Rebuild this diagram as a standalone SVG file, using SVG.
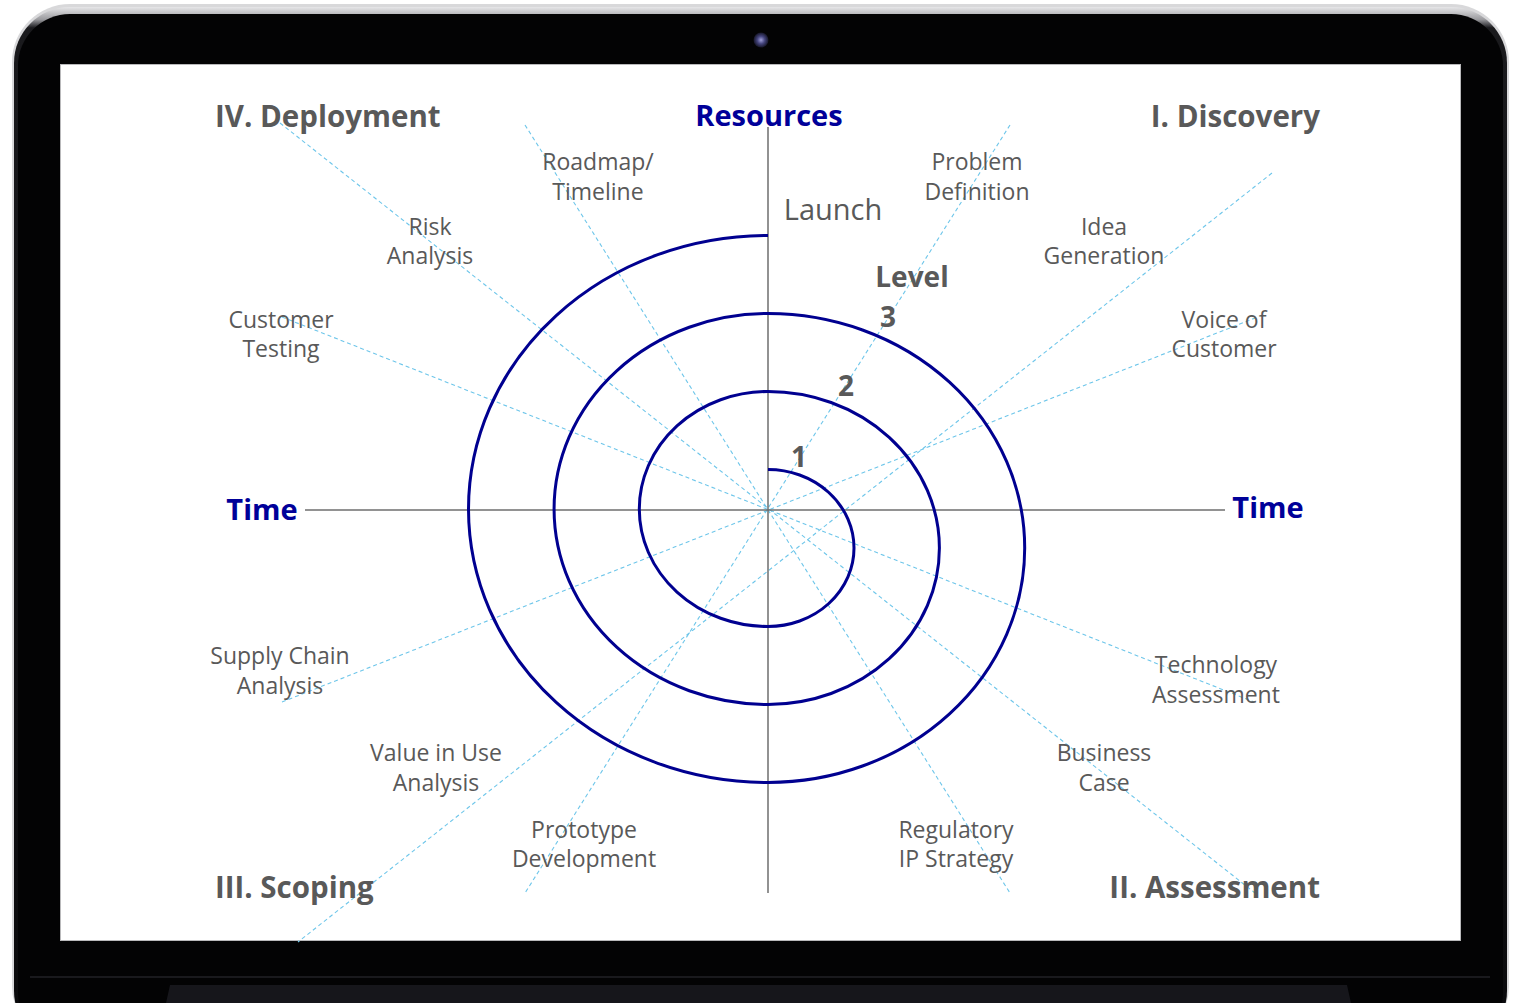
<svg xmlns="http://www.w3.org/2000/svg" width="1521" height="1003" viewBox="0 0 1521 1003">
  <defs>
    <radialGradient id="lens" cx="0.5" cy="0.5" r="0.5">
      <stop offset="0" stop-color="#a0a0d8"/>
      <stop offset="0.5" stop-color="#45457f"/>
      <stop offset="1" stop-color="#151526"/>
    </radialGradient>
    <linearGradient id="rim" x1="0" y1="0" x2="0" y2="1">
      <stop offset="0" stop-color="#e6e6e8"/>
      <stop offset="0.012" stop-color="#9a9a9e"/>
      <stop offset="0.02" stop-color="#1a1a1d"/>
      <stop offset="1" stop-color="#0a0a0c"/>
    </linearGradient>
  </defs>
  <style>
    .lbl { font-family: "Open Sans", "Noto Sans", "Liberation Sans", sans-serif; font-size: 23px; fill: #595959; text-anchor: middle; }
    .phase { font-family: "Open Sans", "Noto Sans", "Liberation Sans", sans-serif; font-size: 29.5px; font-weight: bold; fill: #595959; }
    .axis-lbl { font-family: "Open Sans", "Noto Sans", "Liberation Sans", sans-serif; font-size: 29px; font-weight: bold; fill: #000099; }
    .lvl { font-family: "Open Sans", "Noto Sans", "Liberation Sans", sans-serif; font-size: 28px; font-weight: bold; fill: #595959; }
    .ray { stroke: #6ec6ea; stroke-width: 1.1; stroke-dasharray: 4 3; fill: none; }
    .axis { stroke: #6e6e6e; stroke-width: 1.5; fill: none; }
    .spiral { stroke: #000090; stroke-width: 3; fill: none; }
  </style>

  <!-- laptop body -->
  <rect width="1521" height="1003" fill="#ffffff"/>
  <rect x="12" y="4" width="1497" height="1040" rx="58" ry="58" fill="#d8d8da"/>
  <rect x="14" y="7" width="1493" height="1040" rx="56" ry="56" fill="url(#rim)"/>
  <rect x="18" y="14" width="1485" height="1030" rx="52" ry="52" fill="#030304"/>
  <!-- chin / hinge -->
  <line x1="30" y1="977" x2="1490" y2="977" stroke="#222226" stroke-width="1.5"/>
  <path d="M 170 985 L 1347 985 L 1351 1003 L 166 1003 Z" fill="#16161b"/>
  <!-- camera -->
  <circle cx="761" cy="40" r="7.5" fill="url(#lens)"/>
  <!-- screen -->
  <rect x="60" y="64" width="1401" height="877" fill="#b9b9bb"/>
  <rect x="61" y="65" width="1399" height="875" fill="#ffffff"/>

  <!-- dashed guide rays -->
  <g id="connectors">
    <line class="ray" x1="280" y1="123" x2="1255" y2="893"/>
    <line class="ray" x1="525" y1="125" x2="1010" y2="893"/>
    <line class="ray" x1="1010" y1="125" x2="525" y2="893"/>
    <line class="ray" x1="282" y1="317" x2="1254" y2="702"/>
    <line class="ray" x1="282" y1="702" x2="1255" y2="318"/>
    <line class="ray" x1="1272" y1="173" x2="298" y2="942"/>
  </g>

  <!-- axes -->
  <g id="axes">
    <line class="axis" x1="305" y1="510" x2="1225" y2="510"/>
    <line class="axis" x1="768" y1="127" x2="768" y2="893"/>
  </g>

  <!-- spiral: alternating half-ellipses -->
  <g id="spiral">
    <path class="spiral" d="M 768 469.5 A 86 78.5 0 0 1 768 626.5 A 128.7 117.5 0 0 1 768 391.5 A 171.4 156.5 0 0 1 768 704.5 A 214 195.5 0 0 1 768 313.5 A 256.7 234.5 0 0 1 768 782.5 A 299.5 273.5 0 0 1 768 235.5"/>
  </g>

  <!-- phase titles -->
  <g id="phase-deployment"><text class="phase" x="215" y="127">IV. Deployment</text></g>
  <g id="phase-discovery"><text class="phase" x="1320" y="127" text-anchor="end">I. Discovery</text></g>
  <g id="phase-scoping"><text class="phase" x="215" y="898">III. Scoping</text></g>
  <g id="phase-assessment"><text class="phase" x="1320" y="898" text-anchor="end">II. Assessment</text></g>

  <!-- axis titles -->
  <g id="axis-resources"><text class="axis-lbl" x="769" y="126" text-anchor="middle">Resources</text></g>
  <g id="axis-time-left"><text class="axis-lbl" x="262" y="520" text-anchor="middle">Time</text></g>
  <g id="axis-time-right"><text class="axis-lbl" x="1268" y="518" text-anchor="middle">Time</text></g>

  <!-- level markers -->
  <g id="launch"><text class="lbl" x="833" y="220" style="font-size:29px">Launch</text></g>
  <g id="level-3">
    <text class="lvl" x="912" y="287" text-anchor="middle">Level</text>
    <text class="lvl" x="888" y="327" text-anchor="middle">3</text>
  </g>
  <g id="level-2"><text class="lvl" x="846" y="396" text-anchor="middle">2</text></g>
  <g id="level-1"><text class="lvl" x="799" y="467" text-anchor="middle">1</text></g>

  <!-- activity labels -->
  <g id="roadmap"><text class="lbl" x="598" y="170">Roadmap/</text><text class="lbl" x="598" y="200">Timeline</text></g>
  <g id="problem"><text class="lbl" x="977" y="170">Problem</text><text class="lbl" x="977" y="200">Definition</text></g>
  <g id="risk"><text class="lbl" x="430" y="235">Risk</text><text class="lbl" x="430" y="264">Analysis</text></g>
  <g id="idea"><text class="lbl" x="1104" y="235">Idea</text><text class="lbl" x="1104" y="264">Generation</text></g>
  <g id="customer-testing"><text class="lbl" x="281" y="328">Customer</text><text class="lbl" x="281" y="357">Testing</text></g>
  <g id="voice"><text class="lbl" x="1224" y="328">Voice of</text><text class="lbl" x="1224" y="357">Customer</text></g>
  <g id="supply-chain"><text class="lbl" x="280" y="664">Supply Chain</text><text class="lbl" x="280" y="694">Analysis</text></g>
  <g id="technology"><text class="lbl" x="1216" y="673">Technology</text><text class="lbl" x="1216" y="703">Assessment</text></g>
  <g id="value-in-use"><text class="lbl" x="436" y="761">Value in Use</text><text class="lbl" x="436" y="791">Analysis</text></g>
  <g id="business-case"><text class="lbl" x="1104" y="761">Business</text><text class="lbl" x="1104" y="791">Case</text></g>
  <g id="prototype"><text class="lbl" x="584" y="838">Prototype</text><text class="lbl" x="584" y="867">Development</text></g>
  <g id="regulatory"><text class="lbl" x="956" y="838">Regulatory</text><text class="lbl" x="956" y="867">IP Strategy</text></g>
</svg>
